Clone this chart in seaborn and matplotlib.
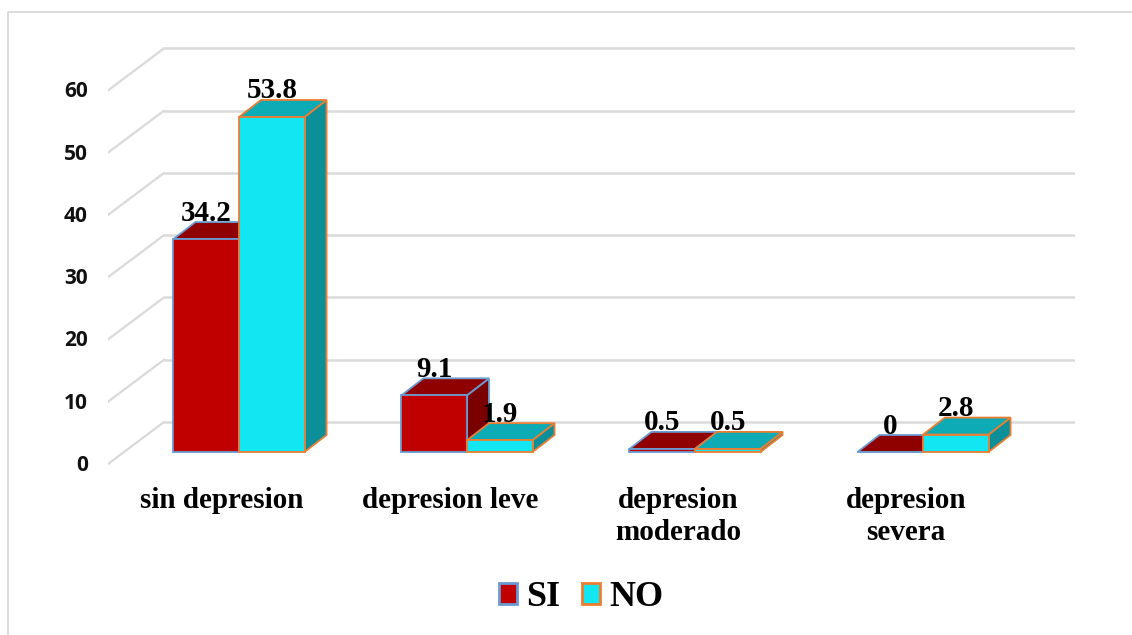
import matplotlib
matplotlib.use("Agg")
import matplotlib.pyplot as plt
from matplotlib.lines import Line2D
from matplotlib.patches import Patch, Polygon
from matplotlib.transforms import ScaledTranslation
import pandas as pd
import seaborn as sns

# chart values
categories = ["sin depresion", "depresion leve", "depresion\nmoderado", "depresion\nsevera"]
si_values = [34.2, 9.1, 0.5, 0]
no_values = [53.8, 1.9, 0.5, 2.8]
value_labels = {"SI": ["34.2", "9.1", "0.5", "0"], "NO": ["53.8", "1.9", "0.5", "2.8"]}
y_ticks = [0, 10, 20, 30, 40, 50, 60]

df = pd.DataFrame({
    "categoria": categories * 2,
    "grupo": ["SI"] * 4 + ["NO"] * 4,
    "valor": si_values + no_values,
})

# colours: front, top, side, edge
colors = {
    "SI": ("#C00000", "#8F0000", "#7A0000", "#6A9BD1"),
    "NO": ("#12E6F2", "#0DABB5", "#0B8F98", "#ED7D31"),
}
GRID = "#DADADA"
SERIF = "Liberation Serif"

W, H = 1132, 635
AX_BOTTOM = 470
sns.set_theme(style="white")
fig = plt.figure(figsize=(W / 100, H / 100), dpi=100)
ax = fig.add_axes([108 / W, 1 - AX_BOTTOM / H, (1075 - 108) / W, (AX_BOTTOM - 12) / H])

sns.barplot(data=df, x="categoria", y="valor", hue="grupo", hue_order=["SI", "NO"],
            palette={k: v[0] for k, v in colors.items()}, width=0.575, gap=0,
            saturation=1, legend=False, ax=ax)

# scale of the plot, pixels per data unit
PX_X = 228.0
PX_Y = 6.227
ax.set_xlim((108 - 239) / PX_X, (1075 - 239) / PX_X)
ax.set_ylim((452 - AX_BOTTOM) / PX_Y, (452 - 12) / PX_Y)

# 3d depth of the bars and of the walls
bar_dx, bar_dy = 22 / PX_X, 17 / PX_Y
wall_dx, wall_up, front_down = 56 / PX_X, 30 / PX_Y, 12 / PX_Y
x0, x1 = ax.get_xlim()

for v in y_ticks:
    ax.plot([x0 + wall_dx, x1], [v + wall_up, v + wall_up], color=GRID, lw=1.8, zorder=1)
    ax.plot([x0, x0 + wall_dx], [v - front_down, v + wall_up], color=GRID, lw=1.6, zorder=1)

# faces are added per bar, SI before NO so the NO bar hides what is behind it
order = 2
for name, container in zip(["SI", "NO"], ax.containers):
    front, top, side, edge = colors[name]
    for i, bar in enumerate(container):
        x, w, h = bar.get_x(), bar.get_width(), bar.get_height()
        top_face = [(x, h), (x + bar_dx, h + bar_dy), (x + w + bar_dx, h + bar_dy), (x + w, h)]
        side_face = [(x + w, 0), (x + w + bar_dx, bar_dy), (x + w + bar_dx, h + bar_dy), (x + w, h)]
        ax.add_patch(Polygon(side_face, closed=True, fc=side, ec=edge, lw=1.3, zorder=order))
        ax.add_patch(Polygon(top_face, closed=True, fc=top, ec=edge, lw=1.3, zorder=order + 0.1))
        bar.set(edgecolor=edge, linewidth=1.3, zorder=order + 0.2)
        ax.text(x + w / 2, h + bar_dy + 1.5 / PX_Y, value_labels[name][i], ha="center",
                va="baseline", family=SERIF, weight="bold", fontsize=21, color="black", zorder=20)
        order += 1

# axes text
ax.set_xlabel("")
ax.set_ylabel("")
sns.despine(ax=ax, left=True, bottom=True)
ax.set_yticks(y_ticks)
ax.tick_params(axis="both", length=0)
ax.tick_params(axis="y", pad=14.5)
ax.tick_params(axis="x", pad=12)
for lab in ax.get_yticklabels():
    lab.set(family="Open Sans", weight="bold", fontsize=15, color="#111111")
    lab.set_transform(lab.get_transform() + ScaledTranslation(0, -11 / 100, fig.dpi_scale_trans))
for lab in ax.get_xticklabels():
    lab.set(family=SERIF, weight="bold", fontsize=21, color="black", linespacing=1.24)
    lab.set_transform(lab.get_transform() + ScaledTranslation(-17 / 100, 0, fig.dpi_scale_trans))

# legend
handles = [Patch(fc=colors[k][0], ec=colors[k][3], lw=2, label=k) for k in ["SI", "NO"]]
ax.legend(handles=handles, loc="center", bbox_to_anchor=(581 / W, 1 - 598 / H),
          bbox_transform=fig.transFigure, ncol=2, frameon=False, handlelength=0.5, handleheight=0.5,
          handletextpad=0.25, columnspacing=0.6, borderpad=0, labelcolor="black",
          prop={"family": SERIF, "weight": "bold", "size": 26})

# outer frame of the picture, only the top and left sides show
fig.add_artist(Line2D([8 / W, 8 / W, 1], [0, 1 - 12 / H, 1 - 12 / H], transform=fig.transFigure,
                      color="#D9D9D9", lw=1.3))

fig.savefig("out.png", dpi=100)
